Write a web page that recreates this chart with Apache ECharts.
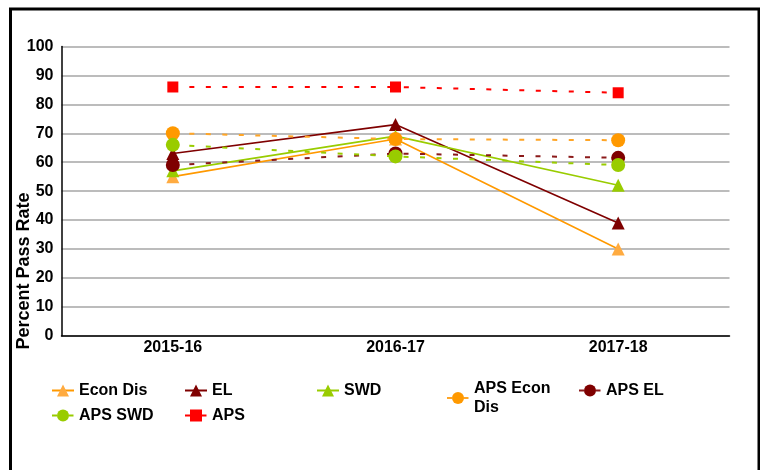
<!DOCTYPE html>
<html>
<head>
<meta charset="utf-8">
<script src="https://cdn.jsdelivr.net/npm/echarts@6/dist/echarts.min.js"></script>
<style>
html,body{margin:0;padding:0;background:#fff;}
#chart{width:760px;height:470px;}
</style>
</head>
<body>
<div id="chart"></div>
<script>
// ---- data ----
const categories = ['2015-16', '2016-17', '2017-18'];
const seriesNames = ['Econ Dis', 'EL', 'SWD', 'APS Econ Dis', 'APS EL', 'APS SWD', 'APS'];
const econDis = [55, 68, 30];
const el = [63, 73, 39];
const swd = [57, 69, 52];
const apsEconDis = [70, 68, 67.6];
const apsEl = [59, 63, 61.5];
const apsSwd = [66, 62, 59];
const aps = [86, 86, 84];
const yAxisTitle = 'Percent Pass Rate';

const FONT = '"Liberation Sans", Arial, sans-serif';
const values = [econDis, el, swd, apsEconDis, apsEl, apsSwd, aps];
const styles = [
  {sym: 'triangle', size: 13, mark: '#FFAB40', line: '#FF9900', dash: 'solid', w: 1.6},
  {sym: 'triangle', size: 13, mark: '#7F0000', line: '#7F0000', dash: 'solid', w: 1.6},
  {sym: 'triangle', size: 13, mark: '#99CC00', line: '#99CC00', dash: 'solid', w: 1.6},
  {sym: 'circle', size: 14, mark: '#FF9900', line: '#FFA526', dash: [5, 11.5], w: 2},
  {sym: 'circle', size: 14, mark: '#7F0000', line: '#8B1A1A', dash: [5, 11.5], w: 2},
  {sym: 'circle', size: 14, mark: '#99CC00', line: '#99CC00', dash: [5, 11.5], w: 2},
  {sym: 'rect', size: 11, mark: '#FF0000', line: '#FF0000', dash: [5, 11.5], w: 2}
];

const series = seriesNames.map((name, i) => ({
  name: name,
  type: 'line',
  data: values[i],
  symbol: styles[i].sym,
  symbolSize: styles[i].size,
  showAllSymbol: true,
  itemStyle: {color: styles[i].mark},
  lineStyle: {color: styles[i].line, width: styles[i].w, type: styles[i].dash},
  emphasis: {disabled: true},
  animation: false,
  z: 2 + i
}));

const legendPos = [
  {left: 51, top: 381},
  {left: 184, top: 381},
  {left: 316, top: 381},
  {left: 446, top: 379},
  {left: 578, top: 381},
  {left: 51, top: 406},
  {left: 184, top: 406}
];
const legend = seriesNames.map((name, i) => ({
  data: [name],
  left: legendPos[i].left,
  top: legendPos[i].top,
  orient: 'horizontal',
  padding: 0,
  itemWidth: 22,
  itemHeight: 15,
  itemGap: 5,
  selectedMode: false,
  textStyle: {
    fontFamily: FONT, fontWeight: 'bold', fontSize: 16, color: '#000',
    width: 90, overflow: 'break', lineHeight: 19
  }
}));

const chart = echarts.init(document.getElementById('chart'), null, {renderer: 'canvas'});
chart.setOption({
  animation: false,
  backgroundColor: '#fff',
  grid: {left: 61.5, top: 46.5, width: 668, height: 289.2, containLabel: false},
  xAxis: {
    type: 'category',
    data: categories,
    boundaryGap: true,
    axisLine: {show: true, lineStyle: {color: '#000', width: 1.5}},
    axisTick: {show: false},
    axisLabel: {fontFamily: FONT, fontWeight: 'bold', fontSize: 16, color: '#000', margin: 4},
    splitLine: {show: false},
    z: 10
  },
  yAxis: {
    type: 'value',
    min: 0, max: 100, interval: 10,
    axisLine: {show: true, lineStyle: {color: '#000', width: 1.5}},
    axisTick: {show: false},
    axisLabel: {fontFamily: FONT, fontWeight: 'bold', fontSize: 16, color: '#000', margin: 8},
    splitLine: {show: true, lineStyle: {color: '#A6A6A6', width: 1.5}}
  },
  legend: legend,
  series: series,
  graphic: [
    {
      type: 'rect',
      shape: {x: 10.5, y: 9, width: 748.5, height: 480},
      style: {fill: 'none', stroke: '#000', lineWidth: 3},
      silent: true
    },
    {
      type: 'text',
      x: 24, y: 271,
      rotation: Math.PI / 2,
      style: {
        text: yAxisTitle,
        fontFamily: FONT, fontWeight: 'bold', fontSize: 18, fill: '#000',
        align: 'center', verticalAlign: 'middle'
      },
      silent: true
    }
  ]
});
</script>
</body>
</html>
